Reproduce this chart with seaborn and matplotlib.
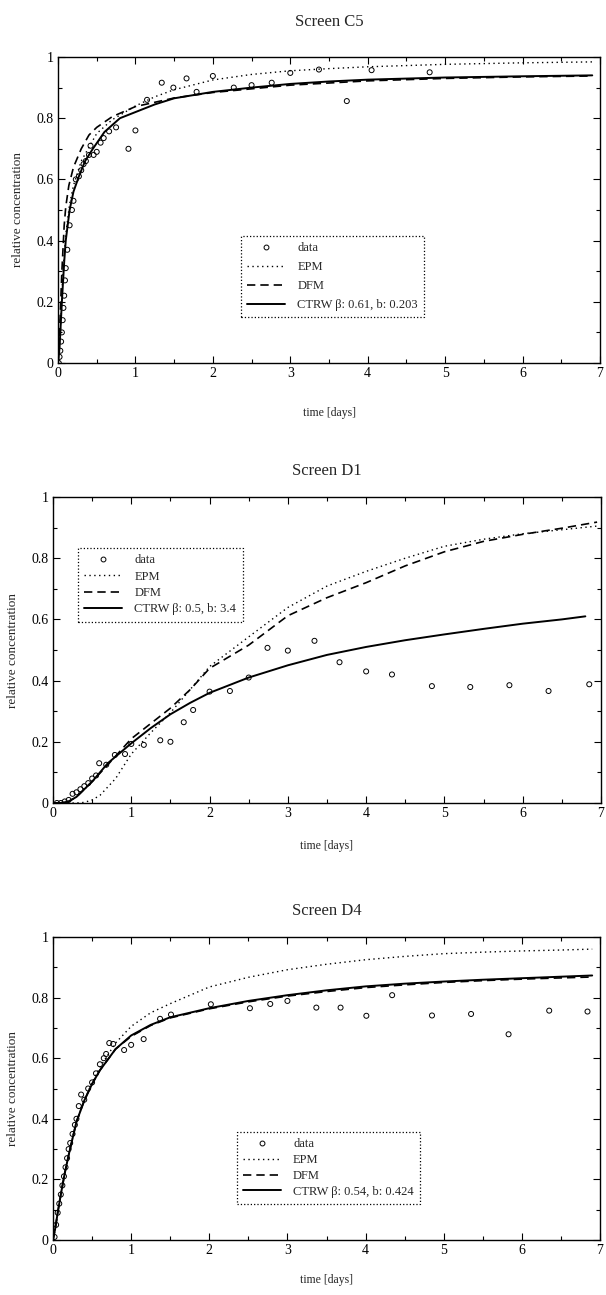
import numpy as np
import pandas as pd
import matplotlib
matplotlib.use("Agg")
import matplotlib.pyplot as plt
from matplotlib.lines import Line2D
from matplotlib.ticker import MultipleLocator
import seaborn as sns

sns.set_theme(style="white")
plt.rcParams["font.family"] = ["Liberation Serif", "DejaVu Serif"]
plt.rcParams["mathtext.fontset"] = "stix"

# ---------------- Screen C5 ----------------
c5_data_t = [0.01, 0.02, 0.03, 0.04, 0.05, 0.06, 0.07, 0.08, 0.09, 0.10, 0.12, 0.15,
             0.18, 0.20, 0.23, 0.27, 0.30, 0.33, 0.36, 0.40, 0.42, 0.46, 0.50, 0.55,
             0.59, 0.66, 0.75, 0.91, 1.00, 1.15, 1.34, 1.49, 1.66, 1.79, 2.00, 2.27,
             2.50, 2.76, 3.00, 3.37, 3.73, 4.05, 4.80]
c5_data_c = [0.00, 0.02, 0.04, 0.07, 0.10, 0.14, 0.18, 0.22, 0.27, 0.31, 0.37, 0.45,
             0.50, 0.53, 0.60, 0.61, 0.63, 0.65, 0.66, 0.68, 0.71, 0.68, 0.69, 0.72,
             0.735, 0.757, 0.77, 0.70, 0.76, 0.86, 0.916, 0.90, 0.93, 0.886, 0.938, 0.90,
             0.908, 0.916, 0.948, 0.959, 0.856, 0.957, 0.95]

c5_epm_t = [0, 0.03, 0.06, 0.1, 0.15, 0.2, 0.3, 0.5, 0.7, 1.0, 1.25, 1.5, 2.0, 2.5,
            3.0, 3.5, 4.0, 5.0, 6.0, 6.9]
c5_epm_c = [0, 0.10, 0.28, 0.42, 0.52, 0.58, 0.66, 0.75, 0.795, 0.84, 0.87, 0.893,
            0.925, 0.943, 0.955, 0.962, 0.968, 0.976, 0.981, 0.984]
c5_dfm_t = [0, 0.02, 0.05, 0.08, 0.1, 0.14, 0.2, 0.3, 0.4, 0.5, 0.7, 1.0, 1.5, 2.0,
            3.0, 4.0, 5.0, 6.0, 6.9]
c5_dfm_c = [0, 0.10, 0.30, 0.45, 0.51, 0.58, 0.64, 0.70, 0.745, 0.77, 0.805, 0.838,
            0.866, 0.884, 0.908, 0.922, 0.930, 0.935, 0.938]
c5_ctrw_t = [0, 0.02, 0.05, 0.08, 0.1, 0.15, 0.2, 0.27, 0.35, 0.45, 0.6, 0.8, 1.0,
             1.25, 1.5, 2.0, 2.5, 3.0, 3.5, 4.0, 5.0, 6.0, 6.9]
c5_ctrw_c = [0, 0.05, 0.20, 0.33, 0.40, 0.50, 0.56, 0.61, 0.66, 0.70, 0.755, 0.80,
             0.82, 0.845, 0.865, 0.886, 0.90, 0.912, 0.92, 0.926, 0.933, 0.937, 0.94]

# ---------------- Screen D1 ----------------
d1_data_t = [0.05, 0.10, 0.15, 0.20, 0.25, 0.30, 0.35, 0.40, 0.45, 0.50, 0.55, 0.59,
             0.68, 0.79, 0.92, 1.00, 1.16, 1.37, 1.50, 1.67, 1.79, 2.00, 2.26, 2.50,
             2.74, 3.00, 3.34, 3.66, 4.00, 4.33, 4.84, 5.33, 5.83, 6.33, 6.85]
d1_data_c = [0.00, 0.00, 0.005, 0.01, 0.03, 0.035, 0.045, 0.055, 0.065, 0.08, 0.09, 0.13,
             0.125, 0.157, 0.16, 0.193, 0.19, 0.205, 0.20, 0.264, 0.304, 0.364, 0.366, 0.41,
             0.507, 0.498, 0.53, 0.46, 0.43, 0.42, 0.382, 0.379, 0.385, 0.366, 0.388]

d1_epm_t = [0, 0.3, 0.4, 0.5, 0.6, 0.8, 1.0, 1.25, 1.5, 1.75, 2.0, 2.5, 3.0, 3.5, 4.0,
            4.5, 5.0, 5.5, 6.0, 6.5, 6.95]
d1_epm_c = [0, 0, 0.002, 0.01, 0.025, 0.08, 0.16, 0.23, 0.295, 0.37, 0.446, 0.543, 0.639,
            0.709, 0.757, 0.80, 0.839, 0.862, 0.88, 0.893, 0.905]
d1_dfm_t = [0, 0.1, 0.2, 0.3, 0.4, 0.5, 0.7, 1.0, 1.25, 1.5, 1.75, 2.0, 2.5, 3.0, 3.5,
            4.0, 4.5, 5.0, 5.5, 6.0, 6.5, 6.95]
d1_dfm_c = [0, 0.0, 0.005, 0.02, 0.045, 0.07, 0.125, 0.21, 0.26, 0.31, 0.37, 0.44,
            0.516, 0.612, 0.671, 0.72, 0.775, 0.821, 0.855, 0.878, 0.898, 0.918]
d1_ctrw_t = [0, 0.1, 0.2, 0.3, 0.4, 0.5, 0.7, 1.0, 1.25, 1.5, 1.75, 2.0, 2.5, 3.0, 3.5,
             4.0, 4.5, 5.0, 5.5, 6.0, 6.5, 6.8]
d1_ctrw_c = [0, 0.0, 0.005, 0.02, 0.045, 0.07, 0.13, 0.195, 0.245, 0.29, 0.327, 0.36,
             0.41, 0.45, 0.484, 0.51, 0.532, 0.551, 0.569, 0.586, 0.60, 0.61]

# ---------------- Screen D4 ----------------
d4_data_t = [0.02, 0.04, 0.06, 0.08, 0.10, 0.12, 0.14, 0.16, 0.18, 0.20, 0.22, 0.25,
             0.28, 0.30, 0.33, 0.36, 0.40, 0.45, 0.50, 0.55, 0.60, 0.65, 0.68, 0.72,
             0.77, 0.91, 1.00, 1.16, 1.37, 1.51, 2.02, 2.52, 2.78, 3.00, 3.37, 3.68,
             4.01, 4.34, 4.85, 5.35, 5.83, 6.35, 6.84]
d4_data_c = [0.01, 0.05, 0.09, 0.12, 0.15, 0.18, 0.21, 0.24, 0.27, 0.30, 0.32, 0.35,
             0.38, 0.40, 0.442, 0.48, 0.463, 0.50, 0.52, 0.55, 0.58, 0.60, 0.614, 0.65,
             0.647, 0.627, 0.644, 0.663, 0.73, 0.744, 0.778, 0.765, 0.779, 0.789, 0.767, 0.767,
             0.740, 0.808, 0.741, 0.746, 0.679, 0.757, 0.754]

d4_epm_t = [0, 0.03, 0.06, 0.1, 0.15, 0.2, 0.3, 0.4, 0.5, 0.6, 0.8, 1.0, 1.25, 1.5,
            2.0, 2.5, 3.0, 3.5, 4.0, 4.5, 5.0, 5.5, 6.0, 6.5, 6.9]
d4_epm_c = [0, 0.04, 0.09, 0.15, 0.22, 0.28, 0.39, 0.46, 0.52, 0.57, 0.65, 0.705, 0.75,
            0.78, 0.835, 0.867, 0.892, 0.91, 0.925, 0.936, 0.945, 0.95, 0.954, 0.957, 0.96]
d4_dfm_t = [0, 0.03, 0.06, 0.1, 0.15, 0.2, 0.3, 0.4, 0.5, 0.6, 0.8, 1.0, 1.25, 1.5,
            2.0, 2.5, 3.0, 3.5, 4.0, 4.5, 5.0, 5.5, 6.0, 6.5, 6.9]
d4_dfm_c = [0, 0.04, 0.09, 0.15, 0.22, 0.28, 0.39, 0.46, 0.515, 0.56, 0.63, 0.672, 0.708,
            0.733, 0.763, 0.786, 0.805, 0.82, 0.833, 0.842, 0.85, 0.856, 0.861, 0.865, 0.868]
d4_ctrw_t = [0, 0.03, 0.06, 0.1, 0.15, 0.2, 0.3, 0.4, 0.5, 0.6, 0.8, 1.0, 1.25, 1.5,
             2.0, 2.5, 3.0, 3.5, 4.0, 4.5, 5.0, 5.5, 6.0, 6.5, 6.9]
d4_ctrw_c = [0, 0.04, 0.09, 0.15, 0.22, 0.28, 0.39, 0.46, 0.515, 0.56, 0.63, 0.675, 0.71,
             0.735, 0.765, 0.789, 0.808, 0.824, 0.837, 0.846, 0.853, 0.859, 0.864, 0.869, 0.873]

titles = ["Screen C5", "Screen D1", "Screen D4"]
ctrw_labels = ["CTRW β: 0.61, b: 0.203", "CTRW β: 0.5, b: 3.4", "CTRW β: 0.54, b: 0.424"]
x_ticks = [0, 1, 2, 3, 4, 5, 6, 7]
y_ticks = [0, 0.2, 0.4, 0.6, 0.8, 1]
y_tick_labels = ["0", "0.2", "0.4", "0.6", "0.8", "1"]

panels = [
    (c5_data_t, c5_data_c, c5_epm_t, c5_epm_c, c5_dfm_t, c5_dfm_c, c5_ctrw_t, c5_ctrw_c),
    (d1_data_t, d1_data_c, d1_epm_t, d1_epm_c, d1_dfm_t, d1_dfm_c, d1_ctrw_t, d1_ctrw_c),
    (d4_data_t, d4_data_c, d4_epm_t, d4_epm_c, d4_dfm_t, d4_dfm_c, d4_ctrw_t, d4_ctrw_c),
]

# axes rectangles in figure pixels: left, top, right, bottom
W, H = 606, 1295
boxes = [(58, 57, 600, 363), (53, 497, 601, 803), (53, 937, 600, 1240)]
legend_anchor = [(0.338, 0.415), (0.046, 0.833), (0.336, 0.356)]
legend_spacing = [0.55, 0.35, 0.3]
title_pad = [22, 16, 16]
xlabel_pad = [19, 14, 12]

fig = plt.figure(figsize=(W / 100, H / 100), dpi=100)
fig.patch.set_facecolor("white")

for i, (box, pan) in enumerate(zip(boxes, panels)):
    l, t, r, b = box
    ax = fig.add_axes([l / W, 1 - b / H, (r - l) / W, (b - t) / H])
    ax.set_facecolor("white")
    dt, dc, et, ec, ft, fc, ct, cc = pan

    sns.lineplot(x=et, y=ec, ax=ax, color="black", lw=1.0, linestyle=(0, (1, 2.5)),
                 sort=False, estimator=None)
    sns.lineplot(x=ft, y=fc, ax=ax, color="black", lw=1.2, linestyle=(0, (5, 3)),
                 sort=False, estimator=None)
    sns.lineplot(x=ct, y=cc, ax=ax, color="black", lw=1.4, linestyle="-",
                 sort=False, estimator=None)
    sns.scatterplot(x=dt, y=dc, ax=ax, marker="o", s=13, facecolor="none",
                    edgecolor="black", linewidth=0.7, zorder=5)

    ax.set_xlim(0, 7)
    ax.set_ylim(0, 1)
    ax.set_xticks(x_ticks)
    ax.set_xticklabels([str(v) for v in x_ticks])
    ax.set_yticks(y_ticks)
    ax.set_yticklabels(y_tick_labels)
    ax.xaxis.set_minor_locator(MultipleLocator(0.5))
    ax.yaxis.set_minor_locator(MultipleLocator(0.1))
    ax.tick_params(which="both", direction="in", top=True, right=True,
                   bottom=True, left=True, colors="black", labelsize=10, pad=3)
    ax.tick_params(which="major", length=5, width=0.8)
    ax.tick_params(which="minor", length=3, width=0.8)
    for sp in ax.spines.values():
        sp.set_visible(True)
        sp.set_color("black")
        sp.set_linewidth(1.0)
    ax.grid(False)

    ax.set_title(titles[i], fontsize=12, pad=title_pad[i])
    ax.set_xlabel("time [days]", fontsize=8.5, labelpad=xlabel_pad[i])
    ax.set_ylabel("relative concentration", fontsize=9.5, labelpad=9)

    handles = [
        Line2D([], [], marker="o", linestyle="none", markersize=3.5,
               markerfacecolor="none", markeredgecolor="black", markeredgewidth=0.7),
        Line2D([], [], color="black", lw=1.0, linestyle=(0, (1, 2.5))),
        Line2D([], [], color="black", lw=1.2, linestyle=(0, (5, 3))),
        Line2D([], [], color="black", lw=1.4, linestyle="-"),
    ]
    labels = ["data", "EPM", "DFM", ctrw_labels[i]]
    leg = ax.legend(handles, labels, loc="upper left", bbox_to_anchor=legend_anchor[i],
                    borderaxespad=0, fontsize=9, frameon=True, fancybox=False,
                    handlelength=3.0, handletextpad=1.0, labelspacing=legend_spacing[i],
                    borderpad=0.5)
    fr = leg.get_frame()
    fr.set_edgecolor("black")
    fr.set_linestyle(":")
    fr.set_linewidth(0.9)
    fr.set_alpha(1)

fig.savefig("out.png", dpi=100, facecolor="white")
